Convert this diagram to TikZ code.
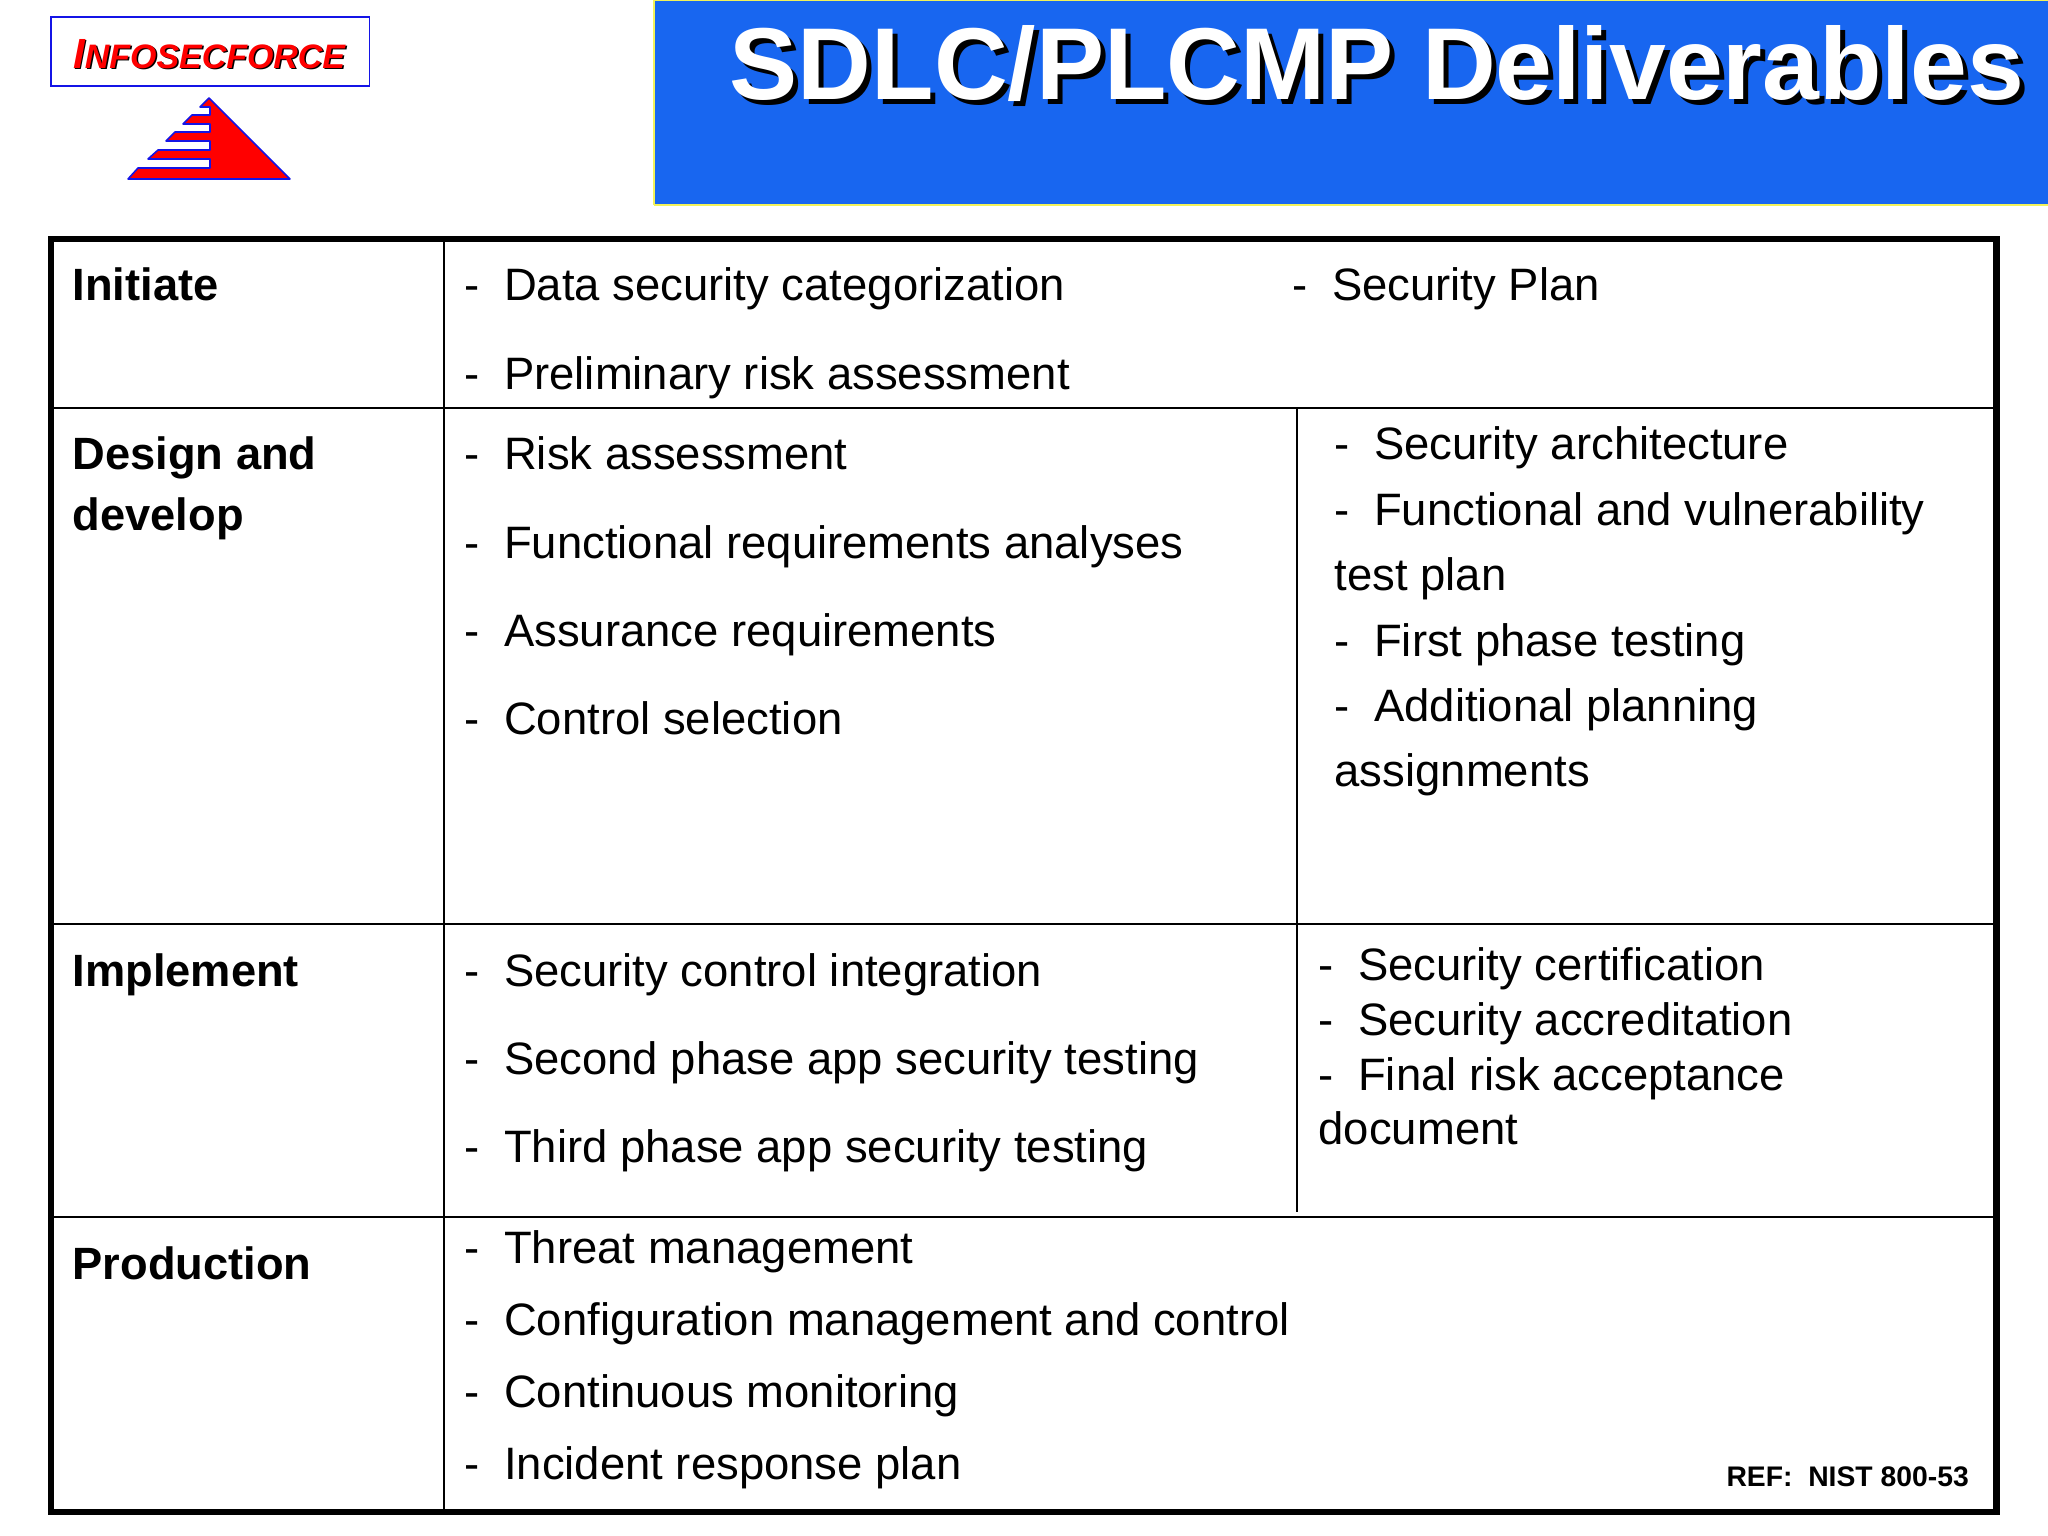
\documentclass[tikz,border=0pt]{standalone}
\usepackage{fontspec}
\setmainfont{Liberation Sans}
\usepackage{tikz}
\definecolor{bannerblue}{HTML}{1866F0}
\definecolor{bannerline}{HTML}{F2F25A}
\definecolor{logoblue}{HTML}{1414E6}
\newcommand{\itm}[1]{\makebox[0.4cm][l]{-}#1}
\newcommand{\logotext}{\fontsize{12}{12}\selectfont I\fontsize{9.65}{12}\selectfont NFOSECFORCE}
\tikzset{item/.style = {anchor = base west, inner sep = 0, font = \fontsize{12.92}{15}\selectfont}}
\tikzset{phase/.style = {item, font = \fontsize{12.87}{15}\selectfont\bfseries}}
\tikzset{heavy/.style = {line width = 1.8pt}}
\tikzset{rule/.style = {line width = 0.75pt}}
\tikzset{thinrule/.style = {line width = 0.5pt}}
\tikzset{headline/.style = {anchor = base west, inner sep = 0, font = \fontsize{29.05}{32}\selectfont\bfseries}}
\tikzset{logoname/.style = {anchor = base west, inner sep = 0, font = \bfseries\itshape}}

\begin{document}
\begin{tikzpicture}[x = 0.01cm, y = -0.01cm]
    \useasboundingbox (0, 0) rectangle (2048, 1536);
    % banner
    \fill [bannerblue] (654, 0) rectangle (2048, 205);
    \draw [bannerline, line width = 0.4pt] (654, 205) -- (654, 0) -- (2048, 0);
    \draw [bannerline, line width = 0.6pt] (654, 205) -- (2048, 205);
    \node [headline, black] (titleshadow) at (734, 104) {SDLC/PLCMP Deliverables};
    \node [headline, white] (title) at (729, 99) {SDLC/PLCMP Deliverables};
    % logo
    \draw [logoblue, line width = 0.5pt] (51, 17) rectangle (369.5, 86);
    \node [logoname, black] (logoshadow) at (74, 69.5) {\logotext};
    \node [logoname, red] (logo) at (72.5, 68) {\logotext};
    \draw [logoblue, fill = red, line width = 0.45pt, line join = round]
      (209, 98) -- (200, 107) -- (210, 107) -- (210, 115) -- (192, 115) -- (183, 124)
      -- (210, 124) -- (210, 132) -- (175, 132) -- (166, 141) -- (210, 141)
      -- (210, 150) -- (158, 150) -- (148, 159) -- (210, 159) -- (210, 168)
      -- (138, 168) -- (128, 179) -- (290, 179) -- cycle;
    % table
    \draw [heavy] (51, 239) rectangle (1996.5, 1512);
    \foreach \y in {408, 924, 1217}{
      \draw [rule] (51, \y) -- (1996.5, \y);
    }
    \draw [rule] (444, 239) -- (444, 1512);
    \draw [thinrule] (1297, 408) -- (1297, 1212);
    % phases
    \node [phase] (initiate) at (72, 300) {Initiate};
    \node [phase] (design) at (72, 469) {Design and};
    \node [phase] (develop) at (72, 530) {develop};
    \node [phase] (implement) at (72, 986) {Implement};
    \node [phase] (production) at (72, 1279) {Production};
    % left column
    \foreach \name/\y/\txt in {
      cat/300/Data security categorization,
      prelim/389/Preliminary risk assessment,
      risk/469/Risk assessment,
      func/558/Functional requirements analyses,
      assur/646/Assurance requirements,
      ctrl/734/Control selection,
      integ/986/Security control integration,
      second/1074/Second phase app security testing,
      third/1162/Third phase app security testing,
      threat/1263/Threat management,
      config/1335/Configuration management and control,
      monitor/1407/Continuous monitoring,
      incident/1479/Incident response plan}{
      \node [item] (\name) at (463.5, \y) {\itm{\txt}};
    }
    \node [item] (plan) at (1291.5, 300) {\itm{Security Plan}};
    % design and develop, right column
    \node [item] (arch) at (1333.5, 459.5) {\itm{Security architecture}};
    \node [item] (vuln) at (1333.5, 525) {\itm{Functional and vulnerability}};
    \node [item] (testplan) at (1334, 590) {test plan};
    \node [item] (first) at (1333.5, 656) {\itm{First phase testing}};
    \node [item] (addl) at (1333.5, 721) {\itm{Additional planning}};
    \node [item] (assign) at (1334, 786) {assignments};
    % implement, right column
    \node [item] (cert) at (1317.5, 980) {\itm{Security certification}};
    \node [item] (accred) at (1317.5, 1035) {\itm{Security accreditation}};
    \node [item] (accept) at (1317.5, 1090) {\itm{Final risk acceptance}};
    \node [item] (doc) at (1318, 1144) {document};
    \node [anchor = base east, inner sep = 0, font = \fontsize{8.05}{10}\selectfont\bfseries] (ref) at (1969.5, 1486) {REF:\ \ NIST 800-53};
  \end{tikzpicture}
\end{document}
